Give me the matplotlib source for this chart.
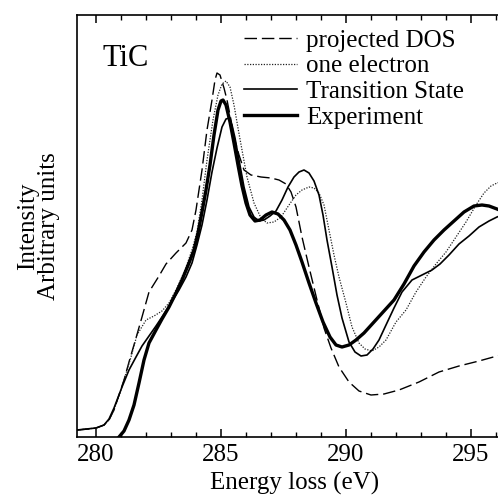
import matplotlib
matplotlib.use("Agg")
import matplotlib.pyplot as plt
from matplotlib.ticker import MultipleLocator
import numpy as np

# ---- data (energy in eV, intensity in arbitrary units) ----
dos_x = [279.24, 279.72, 280.00, 280.32, 280.52, 280.72, 280.92, 281.12, 281.32, 281.60,
         281.84, 282.12, 282.52, 282.80, 283.20, 283.60, 283.84, 284.00, 284.24, 284.44,
         284.64, 284.76, 284.84, 284.96, 285.12, 285.24, 285.40, 285.52, 285.72, 285.92,
         286.20, 286.60, 287.00, 287.32, 287.60, 287.80, 288.00, 288.24, 288.52, 288.84,
         289.12, 289.40, 289.72, 290.12, 290.52, 291.00, 291.52, 292.12, 292.92, 293.72,
         294.52, 295.32, 296.04, 296.6]
dos_y = [7, 8, 9, 12, 17, 27, 42, 57, 75, 99,
         120, 145, 161, 173, 184, 194, 207, 227, 267, 307,
         337, 357, 364, 362, 349, 337, 317, 300, 282, 267,
         262, 260, 259, 257, 253, 245, 230, 200, 170, 137,
         109, 89, 70, 55, 46, 42, 43, 47, 55, 65,
         71, 76, 81, 85]

one_x = [279.24, 280.00, 280.32, 280.52, 280.72, 280.92, 281.12, 281.40, 281.64, 282.00,
         282.32, 282.64, 282.92, 283.24, 283.56, 283.84, 284.04, 284.24, 284.44, 284.68,
         284.88, 285.04, 285.20, 285.36, 285.52, 285.68, 285.84, 286.04, 286.32, 286.60,
         286.84, 287.12, 287.40, 287.72, 288.00, 288.24, 288.52, 288.72, 288.92, 289.12,
         289.32, 289.52, 289.72, 290.00, 290.24, 290.52, 290.76, 291.04, 291.32, 291.60,
         292.00, 292.40, 292.80, 293.20, 293.60, 294.00, 294.40, 294.80, 295.20, 295.52,
         295.80, 296.04, 296.6]
one_y = [7, 9, 12, 17, 27, 41, 57, 80, 102, 117,
         121, 126, 134, 149, 167, 187, 205, 237, 277, 317,
         342, 353, 356, 350, 332, 309, 287, 260, 234, 219,
         214, 215, 220, 232, 242, 247, 250, 249, 244, 232,
         207, 182, 160, 134, 110, 94, 88, 86, 90, 97,
         115, 127, 145, 160, 173, 185, 200, 215, 232, 244,
         251, 254, 258]

ts_x = [279.24, 280.00, 280.32, 280.52, 280.72, 281.04, 281.32, 281.60, 281.84, 282.12,
        282.40, 282.64, 283.00, 283.32, 283.60, 283.84, 284.04, 284.24, 284.44, 284.64,
        284.84, 285.04, 285.20, 285.32, 285.44, 285.56, 285.72, 285.92, 286.12, 286.32,
        286.52, 286.72, 286.96, 287.20, 287.44, 287.68, 287.92, 288.12, 288.32, 288.52,
        288.72, 288.92, 289.08, 289.24, 289.44, 289.64, 289.84, 290.12, 290.36, 290.60,
        290.84, 291.08, 291.32, 291.60, 291.92, 292.24, 292.64, 293.04, 293.44, 293.76,
        294.12, 294.52, 294.92, 295.32, 295.72, 296.04, 296.6]
ts_y = [7, 9, 12, 18, 29, 50, 67, 80, 91, 101,
        111, 120, 134, 147, 160, 174, 192, 212, 237, 265,
        289, 310, 318, 319, 312, 299, 277, 250, 230, 220,
        216, 217, 221, 226, 237, 250, 260, 265, 267, 264,
        256, 242, 222, 197, 170, 142, 119, 95, 85, 81,
        82, 88, 97, 112, 129, 145, 157, 162, 167, 173,
        182, 193, 201, 210, 216, 220, 225]

exp_x = [280.64, 280.92, 281.12, 281.32, 281.52, 281.72, 281.92, 282.12, 282.40, 282.64,
         282.92, 283.20, 283.44, 283.72, 283.92, 284.08, 284.24, 284.40, 284.56, 284.72,
         284.88, 285.00, 285.08, 285.20, 285.36, 285.52, 285.68, 285.84, 286.00, 286.16,
         286.36, 286.56, 286.80, 287.04, 287.28, 287.52, 287.76, 288.00, 288.24, 288.52,
         288.80, 289.08, 289.36, 289.60, 289.84, 290.12, 290.40, 290.72, 291.12, 291.52,
         291.92, 292.32, 292.72, 293.12, 293.52, 293.92, 294.32, 294.72, 295.12, 295.44,
         295.72, 296.04, 296.6]
exp_y = [-8, 0, 6, 17, 32, 54, 77, 94, 107, 118,
         130, 144, 157, 174, 187, 204, 225, 247, 272, 302,
         327, 336, 337, 332, 315, 294, 272, 251, 234, 222,
         216, 217, 222, 225, 223, 217, 207, 192, 175, 154,
         134, 115, 100, 92, 90, 92, 97, 104, 115, 126,
         137, 153, 171, 185, 197, 207, 216, 225, 231, 232,
         231, 228, 222]

labels = ["projected DOS", "one electron", "Transition State", "Experiment"]
x_ticks = [280, 285, 290, 295]

# ---- figure ----
plt.rcParams['font.family'] = ['Liberation Serif', 'DejaVu Serif']
W, H = 498, 497
fig = plt.figure(figsize=(W / 100, H / 100), dpi=100)
left_px, right_px, top_px, bot_px = 77, 512, 15, 437
ax = fig.add_axes([left_px / W, 1 - bot_px / H, (right_px - left_px) / W, (bot_px - top_px) / H])

ppe = 25.0  # pixels per eV
x0 = 279.24
ax.set_xlim(x0, x0 + (right_px - left_px) / ppe)
ax.set_ylim(0, bot_px - top_px)

l1, = ax.plot(dos_x, dos_y, color='black', lw=1.0, dashes=(9, 3.5))
l2, = ax.plot(one_x, one_y, color='#222222', lw=0.9, dashes=(1, 1.2))
l3, = ax.plot(ts_x, ts_y, color='black', lw=1.2)
l4, = ax.plot(exp_x, exp_y, color='black', lw=2.4)

ax.set_xticks(x_ticks)
ax.xaxis.set_minor_locator(MultipleLocator(1))
ax.tick_params(axis='x', which='both', direction='in', top=True, bottom=True,
               labelsize=18, pad=5)
ax.tick_params(axis='x', which='major', length=6, width=1.1)
ax.tick_params(axis='x', which='minor', length=3.8, width=1.0)
ax.tick_params(axis='y', left=False, labelleft=False)
for s in ax.spines.values():
    s.set_linewidth(1.2)

ax.set_xlabel("Energy loss (eV)", fontsize=18, labelpad=4)
ax.set_ylabel("Intensity\nArbitrary units", fontsize=18, linespacing=0.95, labelpad=12)

ax.text(25 / (right_px - left_px), 1 - 44 / (bot_px - top_px), "TiC", transform=ax.transAxes,
        fontsize=22, va='center', ha='left')

leg = ax.legend([l1, l2, l3, l4], labels, loc='upper left', frameon=False,
                bbox_to_anchor=((244 - left_px) / (right_px - left_px), 1 - 14 / (bot_px - top_px)),
                fontsize=18, handlelength=2.1, handletextpad=0.4, labelspacing=0.13,
                borderaxespad=0, borderpad=0)

fig.savefig("out.png", dpi=100)
